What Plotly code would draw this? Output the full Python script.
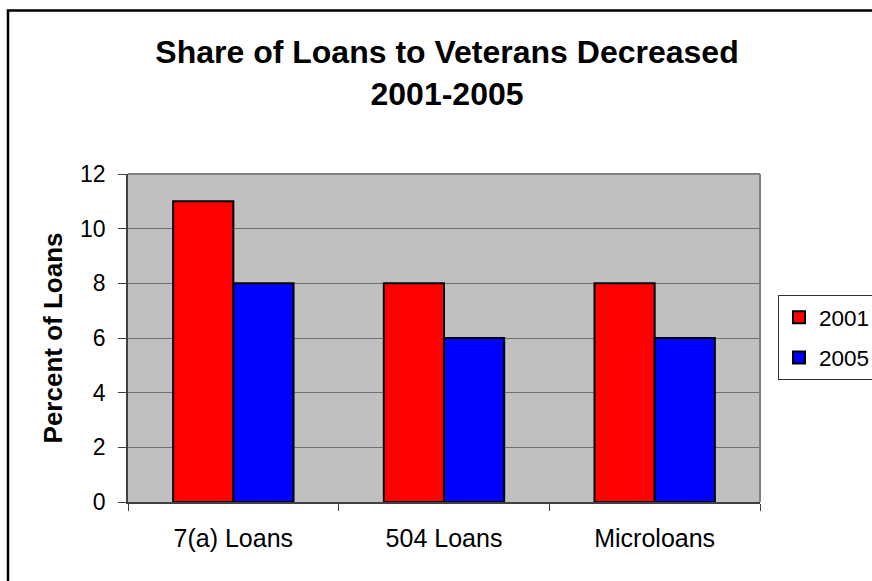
import plotly.graph_objects as go

categories = ["7(a) Loans", "504 Loans", "Microloans"]
values_2001 = [11, 8, 8]
values_2005 = [8, 6, 6]
series_names = ["2001", "2005"]
y_ticks = [0, 2, 4, 6, 8, 10, 12]

W, H = 872, 581
L, R, T, B = 128, 760, 174, 502

FONT = "Arial, 'Liberation Sans', sans-serif"

fig = go.Figure()
fig.add_trace(go.Bar(x=categories, y=values_2001, name=series_names[0], legendgroup="a",
                     marker=dict(color="#FF0000", line=dict(color="black", width=2))))
fig.add_trace(go.Bar(x=categories, y=values_2005, name=series_names[1], legendgroup="b",
                     marker=dict(color="#0000FF", line=dict(color="black", width=2))))

def px_to_paper_x(px):
    return (px - L) / (R - L)

def px_to_paper_y(py):
    return (B - py) / (B - T)

fig.update_layout(
    width=W, height=H,
    margin=dict(l=L, r=W - R, t=T, b=H - B, pad=0),
    paper_bgcolor="white",
    plot_bgcolor="#C0C0C0",
    barmode="group",
    bargap=1.5 / 3.5,
    bargroupgap=0,
    font=dict(family=FONT, color="black"),
    title=dict(
        text="<b>Share of Loans to Veterans Decreased<br>2001-2005</b>",
        x=447 / W, xref="container", xanchor="center",
        y=1 - 63 / H, yref="container", yanchor="top",
        font=dict(size=32, family=FONT, color="black"),
    ),
    showlegend=True,
    legend=dict(
        x=778 / W, xref="container", xanchor="left",
        y=1 - 295 / H, yref="container", yanchor="top",
        bordercolor="#333333", borderwidth=1,
        bgcolor="white",
        font=dict(size=22.5, family=FONT, color="black"),
        itemwidth=30,
        traceorder="grouped",
        tracegroupgap=8,
    ),
    xaxis=dict(
        type="category",
        tickson="boundaries",
        ticks="outside", ticklen=7, tickcolor="#404040", tickwidth=1,
        showline=True, linecolor="#404040", linewidth=1.5,
        showgrid=False,
        tickfont=dict(size=25, family=FONT, color="black"),
        ticklabelstandoff=13,
    ),
    yaxis=dict(
        range=[0, 12],
        tickvals=y_ticks,
        ticks="outside", ticklen=8, tickcolor="#404040", tickwidth=1,
        showline=True, linecolor="#404040", linewidth=1.5,
        showgrid=True, gridcolor="#707070", gridwidth=1,
        zeroline=False,
        tickfont=dict(size=23, family=FONT, color="black"),
        ticklabelstandoff=8,
        title=dict(text="<b>Percent of Loans</b>", font=dict(size=26, family=FONT, color="black"),
                   standoff=10),
    ),
    shapes=[
        dict(type="line", xref="paper", yref="paper", x0=0, x1=1, y0=1, y1=1,
             line=dict(color="#808080", width=2)),
        dict(type="line", xref="paper", yref="paper", x0=1, x1=1, y0=0, y1=1,
             line=dict(color="#808080", width=2)),
        dict(type="rect", xref="paper", yref="paper",
             x0=px_to_paper_x(8), x1=px_to_paper_x(W + 20),
             y0=px_to_paper_y(H + 20), y1=px_to_paper_y(10.5),
             line=dict(color="black", width=2.5), fillcolor="rgba(0,0,0,0)", layer="above"),
    ],
)

fig.write_html("out.html", config={"displayModeBar": False},
               post_script="document.body.style.margin='0px';document.body.style.overflow='hidden';")
